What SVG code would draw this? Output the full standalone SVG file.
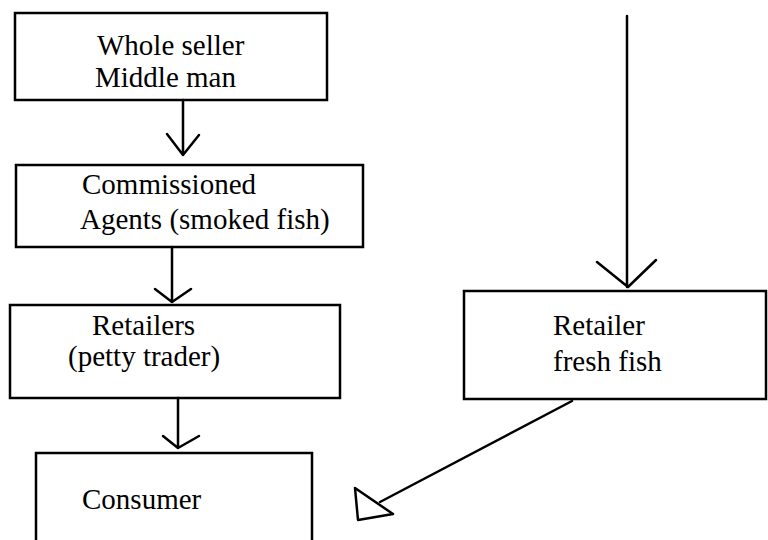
<svg xmlns="http://www.w3.org/2000/svg" width="768" height="540" viewBox="0 0 768 540">
<style>
.box{fill:none;stroke:#000;stroke-width:2.5}
.ln{fill:none;stroke:#000;stroke-width:2.5;stroke-linecap:round;stroke-linejoin:round}
text{font-family:"Liberation Serif","Times New Roman",serif;font-size:29px;fill:#000}
</style>
<rect width="768" height="540" fill="#fff"/>
<g id="wholeseller">
<rect class="box" x="15" y="13" width="312" height="87"/>
<text x="97" y="55">Whole seller</text>
<text x="95" y="87">Middle man</text>
</g>
<g id="commissioned">
<rect class="box" x="16" y="165" width="347" height="82"/>
<text x="82" y="194">Commissioned</text>
<text x="80" y="229">Agents (smoked fish)</text>
</g>
<g id="retailers">
<rect class="box" x="10" y="305" width="330" height="93"/>
<text x="92" y="335">Retailers</text>
<text x="68" y="366">(petty trader)</text>
</g>
<g id="consumer">
<rect class="box" x="36" y="453" width="276" height="100"/>
<text x="82" y="509">Consumer</text>
</g>
<g id="retailerfresh">
<rect class="box" x="464" y="291" width="302" height="108"/>
<text x="553" y="335">Retailer</text>
<text x="553" y="371">fresh fish</text>
</g>
<g id="connectors">
<path class="ln" d="M183,100 V155 M167,134 L183,155 L199,135"/>
<path class="ln" d="M172,247 V302 M155,289 L172,302 L191,289"/>
<path class="ln" d="M178,398 V448 M163,436 L178,448 L199,436"/>
<path class="ln" d="M627,16 V287 M597,262 L628,287 L656,260"/>
<path class="ln" d="M572,401 L380,502"/>
<polygon class="ln" points="355,488 358,520 393,514"/>
</g>
</svg>
